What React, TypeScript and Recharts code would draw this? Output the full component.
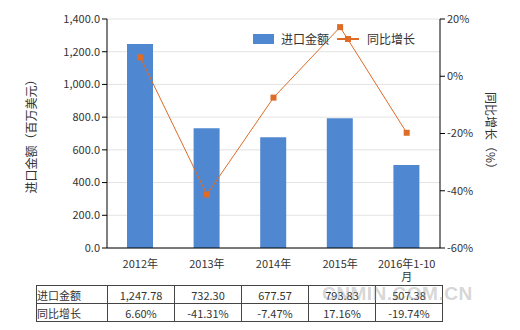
import React from "react"
import {
    ComposedChart,
    Bar,
    Line,
    XAxis,
    YAxis,
    CartesianGrid,
    Label,
} from "recharts"

const years = ["2012年", "2013年", "2014年", "2015年", "2016年1-10月"]
const importValues = [1247.78, 732.3, 677.57, 793.83, 507.38]
const yoyGrowth = [6.6, -41.31, -7.47, 17.16, -19.74]
const importText = ["1,247.78", "732.30", "677.57", "793.83", "507.38"]
const growthText = ["6.60%", "-41.31%", "-7.47%", "17.16%", "-19.74%"]
const leftTicks = [0, 200, 400, 600, 800, 1000, 1200, 1400]
const rightTicks = [-60, -40, -20, 0, 20]

const FONT = '"Noto Sans CJK SC", "Noto Sans", sans-serif'
const BAR_COLOR = "#4f88d1"
const LINE_COLOR = "#de6b26"
const TEXT = "#333"

const data = years.map((name, i) => ({
    name,
    value: importValues[i],
    growth: yoyGrowth[i],
}))

function YearTick({ x, y, payload }: any) {
    const label: string = payload.value
    // the last category breaks onto two lines in the original
    const lines = label.length > 6 ? [label.slice(0, -1), label.slice(-1)] : [label]
    return (
        <text x={x} y={y + 12} textAnchor="middle" fontSize={11} fill={TEXT} fontFamily={FONT}>
            {lines.map((l, i) => (
                <tspan key={i} x={x} dy={i === 0 ? 0 : 13}>{l}</tspan>
            ))}
        </text>
    )
}

function SquareDot({ cx, cy }: any) {
    if (cx == null || cy == null) return null
    return <rect x={cx - 3} y={cy - 3} width={6} height={6} fill={LINE_COLOR} />
}

const cell: React.CSSProperties = {
    border: "1px solid #444",
    padding: 0,
    height: 17,
    fontSize: 11,
    color: TEXT,
    textAlign: "center",
    fontFamily: FONT,
}

export default function App() {
    const colW = 66
    return (
        <div style={{ position: "absolute", left: 0, top: 0, width: 520, height: 330, background: "#fff", fontFamily: FONT }}>
            <ComposedChart
                width={520}
                height={300}
                data={data}
                margin={{ top: 19, right: 0, bottom: 0, left: 0 }}
            >
                <CartesianGrid vertical={false} stroke="#e3e3e3" yAxisId="left" />
                <XAxis
                    dataKey="name"
                    tick={<YearTick />}
                    tickLine={false}
                    axisLine={{ stroke: "#000" }}
                    height={52}
                    interval={0}
                />
                <YAxis
                    yAxisId="left"
                    width={107}
                    domain={[0, 1400]}
                    ticks={leftTicks}
                    tickFormatter={(v: number) => v.toLocaleString("en-US", { minimumFractionDigits: 1, maximumFractionDigits: 1 })}
                    tick={{ fontSize: 11, fill: TEXT, fontFamily: FONT }}
                    tickLine={{ stroke: "#000" }}
                    tickSize={5}
                    axisLine={{ stroke: "#000" }}
                >
                    <Label
                        value="进口金额（百万美元）"
                        angle={-90}
                        position="insideLeft"
                        offset={32}
                        style={{ fontSize: 12, fill: TEXT, fontFamily: FONT, textAnchor: "middle" }}
                    />
                </YAxis>
                <YAxis
                    yAxisId="right"
                    orientation="right"
                    width={80}
                    domain={[-60, 20]}
                    ticks={rightTicks}
                    tickFormatter={(v: number) => `${v}%`}
                    tick={{ fontSize: 11, fill: TEXT, fontFamily: FONT }}
                    tickLine={{ stroke: "#000" }}
                    tickSize={5}
                    axisLine={{ stroke: "#000" }}
                >
                    <Label
                        value="同比增长（%）"
                        angle={90}
                        position="insideRight"
                        offset={30}
                        style={{ fontSize: 12, fill: TEXT, fontFamily: FONT, textAnchor: "middle" }}
                    />
                </YAxis>
                <Bar yAxisId="left" dataKey="value" fill={BAR_COLOR} barSize={26} isAnimationActive={false} />
                <Line
                    yAxisId="right"
                    dataKey="growth"
                    stroke={LINE_COLOR}
                    strokeWidth={1}
                    dot={<SquareDot />}
                    activeDot={false}
                    isAnimationActive={false}
                />
            </ComposedChart>

            {/* legend */}
            <div style={{ position: "absolute", left: 253, top: 30, display: "flex", alignItems: "center", fontSize: 12, color: TEXT }}>
                <span style={{ display: "inline-block", width: 21, height: 10, background: BAR_COLOR, marginRight: 7 }} />
                <span style={{ marginRight: 8 }}>进口金额</span>
                <svg width={26} height={10} style={{ marginRight: 4 }}>
                    <line x1={0} y1={5} x2={22} y2={5} stroke={LINE_COLOR} strokeWidth={2} />
                    <rect x={8} y={2} width={6} height={6} fill={LINE_COLOR} />
                </svg>
                <span>同比增长</span>
            </div>

            {/* data table */}
            <table style={{ position: "absolute", left: 36, top: 285, borderCollapse: "collapse", tableLayout: "fixed" }}>
                <tbody>
                    <tr>
                        <td style={{ ...cell, width: 70, textAlign: "left" }}>进口金额</td>
                        {importText.map((t, i) => <td key={i} style={{ ...cell, width: colW }}>{t}</td>)}
                    </tr>
                    <tr>
                        <td style={{ ...cell, width: 70, textAlign: "left" }}>同比增长</td>
                        {growthText.map((t, i) => <td key={i} style={{ ...cell, width: colW }}>{t}</td>)}
                    </tr>
                </tbody>
            </table>

            {/* watermark */}
            <div style={{ position: "absolute", left: 322, top: 283, fontSize: 19, fontWeight: 700, color: "rgba(150,150,150,0.4)", fontFamily: "Arial, sans-serif", letterSpacing: 0.5 }}>
                CNMIN.COM.CN
            </div>
        </div>
    )
}
